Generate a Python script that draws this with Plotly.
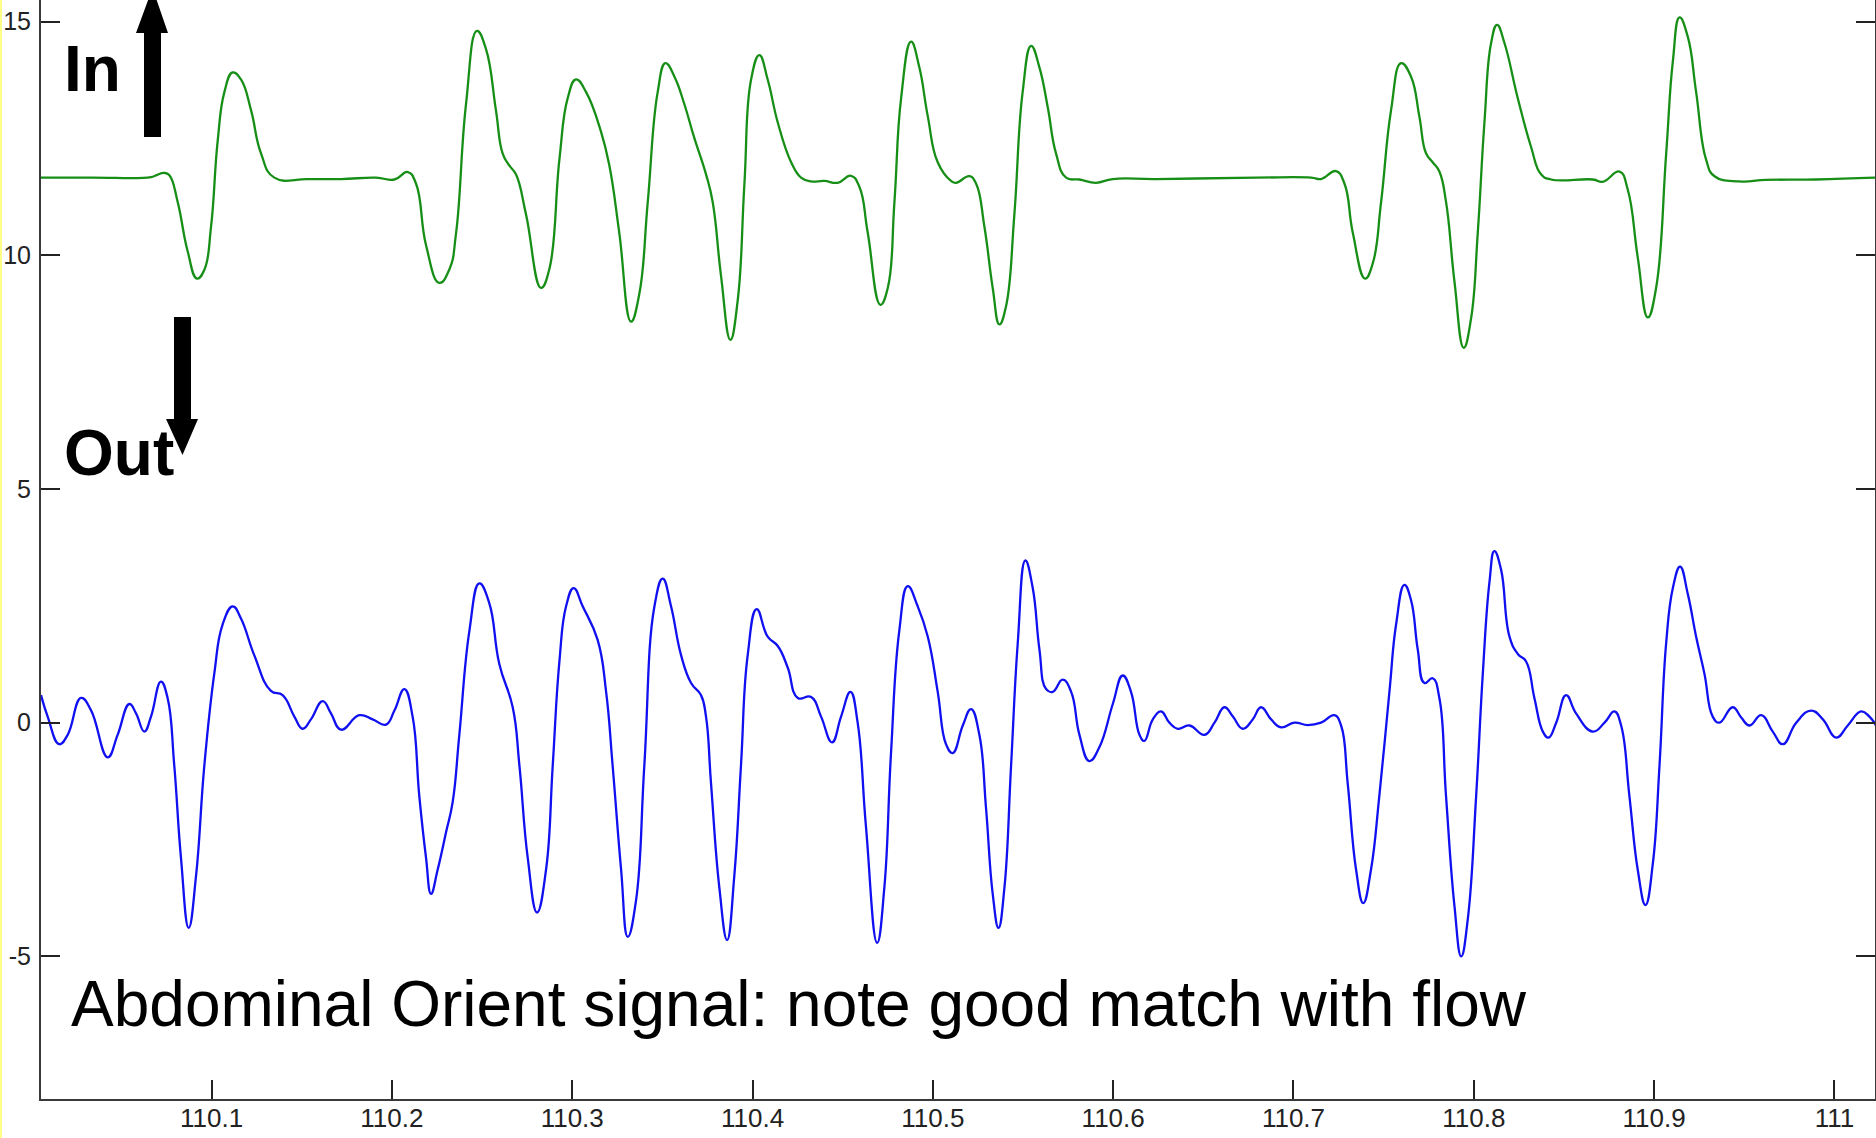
import plotly.graph_objects as go

# ---------------- data ----------------
green_t = [110.0054, 110.0331, 110.0664, 110.0692, 110.0738, 110.0766, 110.0812, 110.0867, 110.0919, 110.0960,
           110.0997, 110.1034, 110.1071, 110.1117, 110.1163, 110.1219, 110.1274, 110.1348, 110.1533, 110.1718,
           110.1912, 110.2014, 110.2088, 110.2134, 110.2189, 110.2263, 110.2319, 110.2356, 110.2411, 110.2472,
           110.2522, 110.2577, 110.2614, 110.2651, 110.2688, 110.2744, 110.2827, 110.2873, 110.2929, 110.2975,
           110.3021, 110.3077, 110.3160, 110.3206, 110.3261, 110.3326, 110.3372, 110.3419, 110.3474, 110.3517,
           110.3567, 110.3622, 110.3677, 110.3742, 110.3779, 110.3825, 110.3877, 110.3918, 110.3955, 110.3992,
           110.4038, 110.4084, 110.4140, 110.4214, 110.4269, 110.4325, 110.4398, 110.4472, 110.4546, 110.4593,
           110.4639, 110.4709, 110.4750, 110.4787, 110.4824, 110.4879, 110.4925, 110.4972, 110.5027, 110.5101,
           110.5129, 110.5203, 110.5240, 110.5286, 110.5332, 110.5369, 110.5406, 110.5452, 110.5498, 110.5545,
           110.5591, 110.5637, 110.5683, 110.5739, 110.5813, 110.5905, 110.5998, 110.6238, 110.6793, 110.7098,
           110.7153, 110.7236, 110.7283, 110.7329, 110.7397, 110.7440, 110.7486, 110.7541, 110.7597, 110.7652,
           110.7698, 110.7735, 110.7772, 110.7809, 110.7846, 110.7893, 110.7944, 110.7985, 110.8022, 110.8059,
           110.8096, 110.8129, 110.8170, 110.8244, 110.8318, 110.8373, 110.8429, 110.8660, 110.8715, 110.8808,
           110.8854, 110.8909, 110.8965, 110.9011, 110.9067, 110.9104, 110.9141, 110.9187, 110.9233, 110.9288,
           110.9335, 110.9473, 110.9621, 110.9898, 111.0231]
green_v = [11.66, 11.66, 11.67, 11.71, 11.76, 11.71, 11.14, 10.09, 9.50, 9.69,
           10.61, 12.45, 13.49, 13.91, 13.76, 13.10, 12.18, 11.66, 11.63, 11.63,
           11.66, 11.62, 11.78, 11.53, 10.22, 9.41, 9.70, 10.48, 13.23, 14.80,
           14.41, 13.10, 12.18, 11.92, 11.73, 10.87, 9.30, 9.70, 12.05, 13.36,
           13.76, 13.49, 12.64, 11.92, 10.48, 8.58, 9.17, 11.14, 13.49, 14.11,
           13.82, 13.23, 12.51, 11.73, 11.14, 9.57, 8.19, 9.04, 11.53, 13.76,
           14.28, 13.76, 12.84, 11.99, 11.66, 11.58, 11.59, 11.55, 11.70, 11.46,
           10.48, 8.94, 9.30, 11.14, 13.36, 14.57, 14.02, 12.97, 11.99, 11.59,
           11.55, 11.69, 11.53, 10.61, 9.30, 8.52, 8.91, 10.87, 13.49, 14.48,
           14.02, 13.17, 12.18, 11.66, 11.62, 11.55, 11.63, 11.63, 11.66, 11.66,
           11.63, 11.80, 11.53, 10.48, 9.50, 9.83, 11.14, 13.10, 14.11, 13.82,
           12.97, 12.18, 11.99, 11.79, 11.14, 9.43, 8.02, 8.65, 10.48, 12.84,
           14.54, 14.93, 14.54, 13.36, 12.31, 11.73, 11.62, 11.62, 11.57, 11.79,
           11.40, 9.96, 8.67, 9.30, 12.18, 14.15, 15.09, 14.67, 13.49, 12.05,
           11.69, 11.58, 11.61, 11.62, 11.66]

blue_t = [110.0054, 110.0091, 110.0155, 110.0202, 110.0276, 110.0331, 110.0424, 110.0479, 110.0544, 110.0581,
          110.0627, 110.0664, 110.0719, 110.0756, 110.0793, 110.0830, 110.0873, 110.0914, 110.0960, 110.1015,
          110.1061, 110.1117, 110.1163, 110.1237, 110.1329, 110.1394, 110.1459, 110.1505, 110.1551, 110.1616,
          110.1662, 110.1718, 110.1819, 110.1893, 110.1967, 110.2014, 110.2069, 110.2115, 110.2152, 110.2189,
          110.2217, 110.2254, 110.2300, 110.2337, 110.2374, 110.2430, 110.2485, 110.2540, 110.2596, 110.2670,
          110.2707, 110.2753, 110.2805, 110.2855, 110.2892, 110.2929, 110.2966, 110.3008, 110.3058, 110.3141,
          110.3188, 110.3224, 110.3271, 110.3308, 110.3354, 110.3400, 110.3456, 110.3502, 110.3548, 110.3604,
          110.3659, 110.3714, 110.3742, 110.3770, 110.3816, 110.3859, 110.3899, 110.3936, 110.3973, 110.4023,
          110.4084, 110.4140, 110.4195, 110.4251, 110.4325, 110.4380, 110.4441, 110.4491, 110.4543, 110.4583,
          110.4629, 110.4691, 110.4731, 110.4768, 110.4814, 110.4861, 110.4916, 110.4972, 110.5027, 110.5073,
          110.5110, 110.5166, 110.5212, 110.5258, 110.5295, 110.5332, 110.5364, 110.5397, 110.5434, 110.5471,
          110.5513, 110.5554, 110.5591, 110.5628, 110.5665, 110.5720, 110.5767, 110.5813, 110.5868, 110.5924,
          110.5998, 110.6053, 110.6099, 110.6146, 110.6173, 110.6220, 110.6266, 110.6312, 110.6358, 110.6423,
          110.6506, 110.6562, 110.6617, 110.6664, 110.6719, 110.6774, 110.6820, 110.6876, 110.6931, 110.7005,
          110.7079, 110.7153, 110.7227, 110.7264, 110.7301, 110.7347, 110.7387, 110.7430, 110.7476, 110.7532,
          110.7569, 110.7615, 110.7652, 110.7689, 110.7726, 110.7772, 110.7809, 110.7846, 110.7893, 110.7930,
          110.7967, 110.8013, 110.8050, 110.8087, 110.8114, 110.8151, 110.8198, 110.8244, 110.8290, 110.8336,
          110.8383, 110.8414, 110.8457, 110.8512, 110.8567, 110.8660, 110.8725, 110.8780, 110.8817, 110.8863,
          110.8909, 110.8952, 110.8993, 110.9030, 110.9067, 110.9104, 110.9144, 110.9187, 110.9233, 110.9279,
          110.9325, 110.9362, 110.9436, 110.9483, 110.9529, 110.9594, 110.9658, 110.9714, 110.9788, 110.9871,
          110.9936, 111.0010, 111.0074, 111.0148, 111.0194, 111.0231]
blue_v = [0.59, 0.13, -0.46, -0.26, 0.53, 0.27, -0.74, -0.26, 0.40, 0.20,
          -0.19, 0.13, 0.88, 0.53, -0.91, -2.88, -4.39, -3.27, -0.91, 1.05,
          2.10, 2.49, 2.23, 1.44, 0.68, 0.59, 0.13, -0.13, 0.07, 0.46,
          0.20, -0.15, 0.16, 0.07, -0.04, 0.26, 0.72, 0.13, -1.57, -2.88,
          -3.66, -3.14, -2.35, -1.70, -0.26, 1.97, 2.98, 2.56, 1.25, 0.33,
          -0.91, -2.88, -4.06, -3.14, -0.91, 1.31, 2.49, 2.88, 2.49, 1.77,
          0.66, -0.91, -3.14, -4.58, -3.80, -0.91, 2.49, 3.08, 2.49, 1.44,
          0.85, 0.59, 0.13, -1.31, -3.53, -4.65, -3.27, -0.91, 1.44, 2.43,
          1.84, 1.64, 1.18, 0.53, 0.55, 0.13, -0.42, 0.13, 0.66, 0.00,
          -2.22, -4.71, -3.53, -0.65, 1.97, 2.92, 2.49, 1.84, 0.66, -0.46,
          -0.65, -0.06, 0.29, -0.26, -1.83, -3.66, -4.39, -3.53, -0.91, 1.71,
          3.47, 2.88, 1.57, 0.72, 0.66, 0.92, 0.66, -0.26, -0.82, -0.52,
          0.40, 1.01, 0.66, -0.26, -0.39, 0.07, 0.24, 0.00, -0.13, -0.06,
          -0.26, 0.00, 0.33, 0.13, -0.13, 0.07, 0.33, 0.07, -0.10, 0.00,
          -0.05, 0.00, 0.16, -0.06, -1.31, -3.14, -3.86, -3.14, -1.57, 0.66,
          2.10, 2.95, 2.62, 1.57, 0.85, 0.95, 0.53, -1.57, -3.93, -5.00,
          -4.19, -1.57, 1.05, 3.01, 3.67, 3.28, 1.84, 1.47, 1.31, 0.53,
          -0.19, -0.32, 0.00, 0.59, 0.20, -0.19, 0.00, 0.24, -0.06, -1.57,
          -3.14, -3.90, -3.01, -0.91, 1.71, 2.88, 3.34, 2.75, 1.84, 1.05,
          0.13, 0.00, 0.33, 0.11, -0.06, 0.16, -0.19, -0.46, 0.00, 0.26,
          0.07, -0.32, -0.06, 0.24, 0.13, -0.06]

x_ticks = [110.1, 110.2, 110.3, 110.4, 110.5, 110.6, 110.7, 110.8, 110.9, 111.0]
x_tick_labels = ["110.1", "110.2", "110.3", "110.4", "110.5", "110.6", "110.7", "110.8", "110.9", "111"]
y_ticks = [-5, 0, 5, 10, 15]
y_tick_labels = ["-5", "0", "5", "10", "15"]

caption = "Abdominal Orient signal: note good match with flow"
label_in = "In"
label_out = "Out"

# ---------------- layout geometry (pixels) ----------------
W, H = 1876, 1138
L, R, T, B = 41, 1, 0, 39
PW, PH = W - L - R, H - T - B


def px(x):
    return (x - L) / PW


def py(y):
    return (H - B - y) / PH


fig = go.Figure()
fig.add_trace(go.Scatter(x=green_t, y=green_v, mode="lines",
                         line=dict(color="#178f17", width=2.3, shape="spline", smoothing=1.3),
                         hoverinfo="skip", showlegend=False))
fig.add_trace(go.Scatter(x=blue_t, y=blue_v, mode="lines",
                         line=dict(color="#1010f0", width=2.3, shape="spline", smoothing=1.3),
                         hoverinfo="skip", showlegend=False))

axis_col = "#3a3a3a"
fig.update_layout(
    width=W, height=H,
    margin=dict(l=L, r=R, t=T, b=B, pad=0, autoexpand=False),
    paper_bgcolor="white", plot_bgcolor="white",
    xaxis=dict(range=[110.0054, 111.0225], tickvals=x_ticks, ticktext=x_tick_labels,
               ticks="inside", ticklen=19, tickwidth=1.5, tickcolor="#222",
               showline=True, linewidth=2, linecolor=axis_col, mirror=False,
               showgrid=False, zeroline=False, ticklabelstandoff=-5, automargin=False,
               tickfont=dict(family="Liberation Sans Narrow, Arial Narrow, Liberation Sans, Arial",
                             size=26, color="#222")),
    yaxis=dict(range=[-8.05, 15.46], tickvals=y_ticks, ticktext=y_tick_labels,
               ticks="inside", ticklen=19, tickwidth=1.5, tickcolor="#222",
               showline=True, linewidth=2, linecolor=axis_col, mirror="ticks",
               showgrid=False, zeroline=False, ticklabelstandoff=3, automargin=False,
               tickfont=dict(family="Liberation Sans, Arial", size=25, color="#222")),
)

ann = []
ann.append(dict(text="<b>%s</b>" % label_in, x=px(62), y=py(69), xref="paper", yref="paper",
                xanchor="left", yanchor="middle", showarrow=False,
                font=dict(family="Liberation Sans, Arial", size=64, color="black")))
ann.append(dict(text="<b>%s</b>" % label_out, x=px(62), y=py(453), xref="paper", yref="paper",
                xanchor="left", yanchor="middle", showarrow=False,
                font=dict(family="Liberation Sans, Arial", size=64, color="black")))
ann.append(dict(text=caption, x=px(69), y=py(1004), xref="paper", yref="paper",
                xanchor="left", yanchor="middle", showarrow=False,
                font=dict(family="Liberation Sans, Arial", size=64, color="black")))
fig.update_layout(annotations=ann)


def path(points):
    s = "M " + " L ".join("%.5f,%.5f" % (px(a), py(b)) for a, b in points) + " Z"
    return s


up_arrow = [(144, 137), (161, 137), (161, 33), (168, 33), (152.5, -12), (136, 33), (144, 33)]
down_arrow = [(174, 317), (191, 317), (191, 419), (198, 419), (182.5, 455), (166, 419), (174, 419)]
shapes = [
    dict(type="path", path=path(up_arrow), xref="paper", yref="paper",
         fillcolor="black", line=dict(width=0), layer="above"),
    dict(type="path", path=path(down_arrow), xref="paper", yref="paper",
         fillcolor="black", line=dict(width=0), layer="above"),
    dict(type="rect", x0=px(0), x1=px(2), y0=py(H), y1=py(0), xref="paper", yref="paper",
         fillcolor="#ffff88", line=dict(width=0), layer="above"),
]
fig.update_layout(shapes=shapes)

fig.write_html("out.html")
